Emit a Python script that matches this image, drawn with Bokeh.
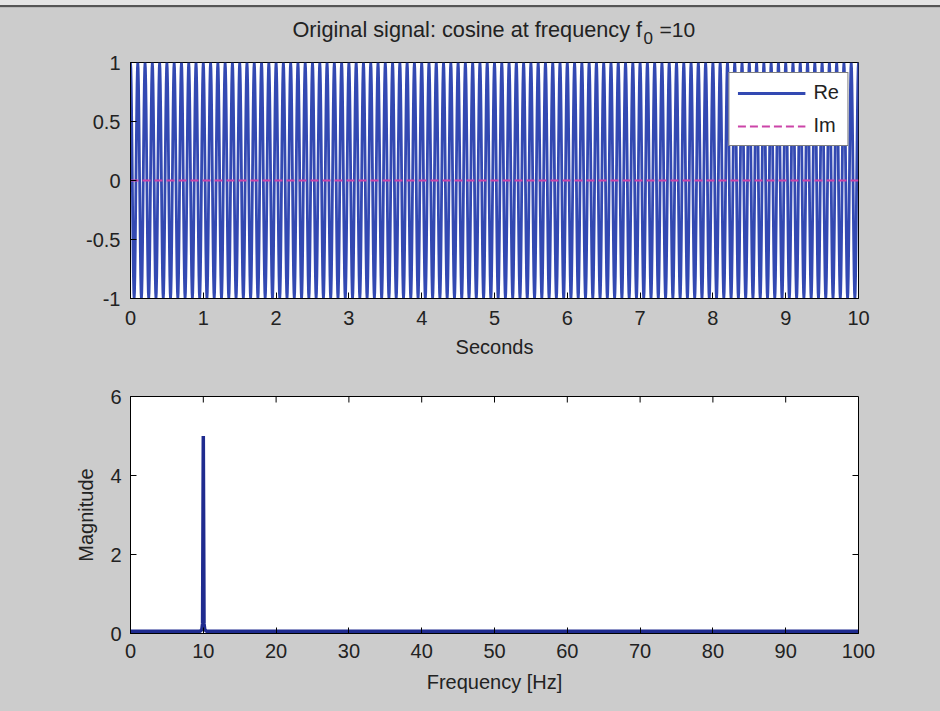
import numpy as np
from bokeh.plotting import figure
from bokeh.layouts import column
from bokeh.models import Range1d, FixedTicker, Label, Legend, LegendItem, Div
from bokeh.embed import file_html
from bokeh.resources import INLINE

# ---------------- data ----------------
f0 = 10          # cosine frequency (Hz), from the title
fs = 200         # sampling rate (Hz)
duration = 10    # seconds
t = np.arange(0, duration * fs + 1) / fs
sig_re = np.cos(2 * np.pi * f0 * t)
sig_im = np.zeros_like(t)

spec_freq = [0, 9.6, 9.8, 9.9, 10.0, 10.1, 10.2, 10.4, 100]
spec_mag = [0.06, 0.06, 0.1, 0.25, 5.0, 0.25, 0.1, 0.06, 0.06]

top_xticks = [0, 1, 2, 3, 4, 5, 6, 7, 8, 9, 10]
top_yticks = [-1, -0.5, 0, 0.5, 1]
top_ylabels = ["-1", "-0.5", "0", "0.5", "1"]
bot_xticks = [0, 10, 20, 30, 40, 50, 60, 70, 80, 90, 100]
bot_yticks = [0, 2, 4, 6]

# ---------------- style ----------------
BG = "#cccccc"
FONT = "Liberation Sans"
TXT = "#222222"
BLUE = "#3349b2"
NAVY = "#1f2b8f"
PINK = "#cc44a8"
TICK_FS = "20px"
LAB_FS = "20px"
W = 940
BAR = 8
HDR = 50 - BAR


def style_axes(p, xticks, yticks, xstand, ystand, ylabels=None):
    for ax in p.xaxis + p.yaxis:
        ax.major_label_text_font = FONT
        ax.major_label_text_font_size = TICK_FS
        ax.major_label_text_color = TXT
        ax.axis_label_text_font = FONT
        ax.axis_label_text_font_size = LAB_FS
        ax.axis_label_text_font_style = "normal"
        ax.axis_label_text_color = TXT
        ax.axis_line_color = "black"
        ax.major_tick_line_color = "black"
        ax.major_tick_in = 6
        ax.major_tick_out = 0
        ax.minor_tick_line_color = None
    p.xaxis.ticker = FixedTicker(ticks=xticks)
    p.yaxis.ticker = FixedTicker(ticks=yticks)
    p.xaxis.major_label_standoff = xstand
    p.yaxis.major_label_standoff = ystand
    if ylabels is not None:
        p.yaxis.major_label_overrides = {v: s for v, s in zip(yticks, ylabels)}
    p.xgrid.visible = False
    p.ygrid.visible = False
    p.outline_line_color = "black"


def box_ticks(p, xticks, yticks, x0, x1, y0, y1, fw, fh):
    # inward tick marks on the top and right edges (MATLAB "box on")
    dy = 6 * (y1 - y0) / fh
    dx = 6 * (x1 - x0) / fw
    xs = [v for v in xticks if x0 < v < x1]
    ys = [v for v in yticks if y0 < v < y1]
    p.segment(x0=xs, y0=[y1] * len(xs), x1=xs, y1=[y1 - dy] * len(xs), line_color="black", line_width=1)
    p.segment(x0=[x1] * len(ys), y0=ys, x1=[x1 - dx] * len(ys), y1=ys, line_color="black", line_width=1)


# ---------------- window edge ----------------
bar = Div(text="", width=W, height=BAR, margin=0,
          styles={"background": "linear-gradient(#e4e4e4 0px, #e4e4e4 5px, #555555 5px, #555555 7px, #b8b8b8 7px, #b8b8b8 8px)"})

# ---------------- header (title) ----------------
# the frame is aligned with the plots below (x 130..858), so data x = page pixel
p0 = figure(width=W, height=HDR, output_backend="svg", toolbar_location=None, title=None,
            x_range=Range1d(130, 858), y_range=Range1d(HDR + BAR, BAR),
            min_border_left=130, min_border_right=82, min_border_top=0, min_border_bottom=0)
p0.axis.visible = False
p0.grid.visible = False
p0.outline_line_color = None
p0.background_fill_color = BG
p0.border_fill_color = BG
for txt, px, py, fs_ in [("Original signal: cosine at frequency f", 292, 29, "21.7px"),
                         ("0", 643, 37, "17px"),
                         ("=10", 659, 29, "21px")]:
    p0.add_layout(Label(x=px, y=py, text=txt, text_font=FONT, text_font_size=fs_,
                        text_color=TXT, text_align="left", text_baseline="alphabetic"))

# ---------------- top plot ----------------
H1 = 365 - 50
p1 = figure(width=W, height=H1, output_backend="svg", toolbar_location=None, title=None,
            x_range=Range1d(0, 10), y_range=Range1d(-1, 1),
            min_border_left=130, min_border_right=82, min_border_top=62 - 50,
            min_border_bottom=365 - 298)
p1.background_fill_color = "white"
p1.border_fill_color = BG
p1.xaxis.axis_label = "Seconds"
style_axes(p1, top_xticks, top_yticks, 12, 10, top_ylabels)
p1.xaxis.axis_label_standoff = 8

r_re = p1.line(t, sig_re, line_color=BLUE, line_width=2.8)
r_im = p1.line(t, sig_im, line_color=PINK, line_width=2, line_dash="8 4")

legend = Legend(items=[LegendItem(label="Re", renderers=[r_re]),
                       LegendItem(label="Im", renderers=[r_im])],
                location="top_right")
legend.label_text_font = FONT
legend.label_text_font_size = LAB_FS
legend.label_text_color = TXT
legend.glyph_width = 68
legend.glyph_height = 22
legend.label_height = 22
legend.label_standoff = 8
legend.spacing = 10
legend.padding = 8
legend.margin = 10
legend.border_line_color = "black"
legend.border_line_width = 1
legend.background_fill_color = "white"
legend.background_fill_alpha = 1
p1.add_layout(legend)

# ---------------- bottom plot ----------------
H2 = 711 - 365
p2 = figure(width=W, height=H2, output_backend="svg", toolbar_location=None, title=None,
            x_range=Range1d(0, 100), y_range=Range1d(0, 6),
            min_border_left=130, min_border_right=82, min_border_top=396 - 365,
            min_border_bottom=711 - 633)
p2.background_fill_color = "white"
p2.border_fill_color = BG
p2.xaxis.axis_label = "Frequency [Hz]"
p2.yaxis.axis_label = "Magnitude"
style_axes(p2, bot_xticks, bot_yticks, 10, 9)
p2.xaxis.axis_label_standoff = 10
p2.yaxis.axis_label_standoff = 10
box_ticks(p2, bot_xticks, bot_yticks, 0, 100, 0, 6, 728, 237)
p2.line(spec_freq, spec_mag, line_color=NAVY, line_width=3.5)

layout = column(bar, p0, p1, p2, spacing=0)
layout.styles = {"background-color": BG}

open("out.html", "w").write(file_html(layout, INLINE))
